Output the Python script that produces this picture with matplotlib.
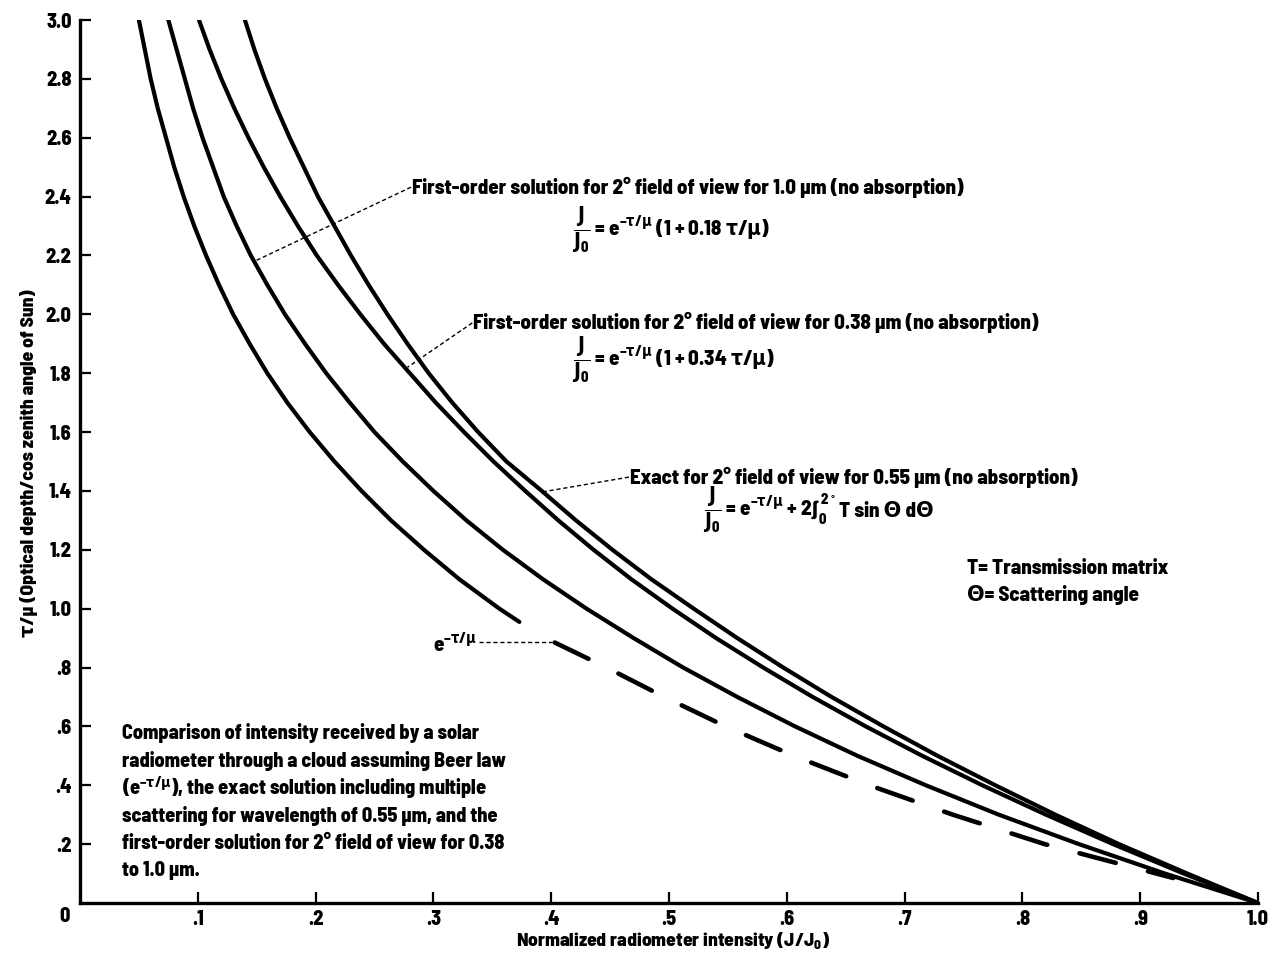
import matplotlib
matplotlib.use("Agg")
import matplotlib.pyplot as plt

# ---------------- data ----------------
tau_grid = [3.0, 2.9, 2.8, 2.7, 2.6, 2.5, 2.4, 2.3, 2.2, 2.1, 2.0, 1.9, 1.8, 1.7, 1.6, 1.5,
            1.4, 1.3, 1.2, 1.1, 1.0, 0.9, 0.8, 0.7, 0.6, 0.5, 0.4, 0.3, 0.2, 0.1, 0.0]

first_order_10um = [0.075, 0.082, 0.089, 0.096, 0.104, 0.113, 0.122, 0.133, 0.145, 0.159,
                    0.174, 0.191, 0.209, 0.229, 0.250, 0.274, 0.300, 0.328, 0.359, 0.393,
                    0.430, 0.470, 0.512, 0.558, 0.607, 0.660, 0.718, 0.780, 0.848, 0.921, 1.0]
first_order_038um = [0.101, 0.110, 0.120, 0.131, 0.143, 0.156, 0.170, 0.185, 0.201, 0.219,
                     0.238, 0.258, 0.280, 0.302, 0.326, 0.351, 0.378, 0.406, 0.436, 0.468,
                     0.503, 0.540, 0.580, 0.622, 0.667, 0.715, 0.766, 0.820, 0.877, 0.937, 1.0]
exact_055um = [0.140, 0.148, 0.157, 0.167, 0.178, 0.190, 0.202, 0.216, 0.230, 0.245,
               0.261, 0.278, 0.296, 0.316, 0.338, 0.362, 0.392, 0.421, 0.452, 0.485,
               0.521, 0.558, 0.597, 0.638, 0.682, 0.728, 0.777, 0.828, 0.882, 0.940, 1.0]

beer_solid_tau = [3.0, 2.9, 2.8, 2.7, 2.6, 2.5, 2.4, 2.3, 2.2, 2.1, 2.0, 1.9, 1.8, 1.7,
                  1.6, 1.5, 1.4, 1.3, 1.2, 1.1, 1.0, 0.955]
beer_solid_x = [0.050, 0.055, 0.060, 0.066, 0.073, 0.080, 0.088, 0.097, 0.107, 0.118,
                0.130, 0.144, 0.159, 0.176, 0.195, 0.216, 0.239, 0.264, 0.292, 0.322,
                0.356, 0.373]
beer_dash_tau = [0.885, 0.8, 0.7, 0.6, 0.5, 0.4, 0.3, 0.2, 0.085]
beer_dash_x = [0.403, 0.447, 0.496, 0.548, 0.606, 0.670, 0.741, 0.819, 0.928]

x_ticks = [0.1, 0.2, 0.3, 0.4, 0.5, 0.6, 0.7, 0.8, 0.9, 1.0]
x_tick_labels = [".1", ".2", ".3", ".4", ".5", ".6", ".7", ".8", ".9", "1.0"]
y_ticks = [0.2, 0.4, 0.6, 0.8, 1.0, 1.2, 1.4, 1.6, 1.8, 2.0, 2.2, 2.4, 2.6, 2.8, 3.0]
y_tick_labels = [".2", ".4", ".6", ".8", "1.0", "1.2", "1.4", "1.6", "1.8", "2.0",
                 "2.2", "2.4", "2.6", "2.8", "3.0"]

comment_lines = ["Comparison of intensity received by a solar",
                 "radiometer through a cloud assuming Beer law",
                 r"(e$^{-\tau/\mu}$), the exact solution including multiple",
                 "scattering for wavelength of 0.55 µm, and the",
                 "first-order solution for 2° field of view for 0.38",
                 "to 1.0 µm."]

# ---------------- styling ----------------
plt.rcParams["font.family"] = ["Barlow Semi Condensed", "DejaVu Sans"]
plt.rcParams["font.weight"] = 800
plt.rcParams["mathtext.fontset"] = "custom"
plt.rcParams["mathtext.rm"] = "Barlow Semi Condensed:weight=heavy"
plt.rcParams["mathtext.bf"] = "Barlow Semi Condensed:weight=heavy"
plt.rcParams["mathtext.sf"] = "Barlow Semi Condensed:weight=heavy"
plt.rcParams["mathtext.it"] = "DejaVu Sans:weight=bold:stretch=condensed"
plt.rcParams["mathtext.fallback"] = "stixsans"
plt.rcParams["lines.scale_dashes"] = False

W, H = 1277, 955
fig = plt.figure(figsize=(W / 100, H / 100), dpi=100)
ax = fig.add_axes([80 / W, 52 / H, 1178 / W, 883 / H])
ax.set_xlim(0, 1.0)
ax.set_ylim(0, 3.0)

LW = 3.0
for xs in (first_order_10um, first_order_038um, exact_055um):
    ax.plot(xs, tau_grid, color="black", lw=LW, solid_capstyle="round",
            solid_joinstyle="round")
ax.plot(beer_solid_x, beer_solid_tau, color="black", lw=LW, solid_capstyle="round",
        solid_joinstyle="round")
ax.plot(beer_dash_x, beer_dash_tau, color="black", lw=LW + 0.3, dashes=(27, 24),
        dash_capstyle="round")

for s in ["top", "right"]:
    ax.spines[s].set_visible(False)
for s in ["left", "bottom"]:
    ax.spines[s].set_linewidth(2.4)

TICK_FS = 14.5
ax.set_xticks(x_ticks)
ax.set_xticklabels(x_tick_labels)
ax.set_yticks(y_ticks)
ax.set_yticklabels(y_tick_labels)
ax.tick_params(direction="in", length=8, width=1.6, labelsize=TICK_FS, pad=5)
ax.tick_params(axis="y", pad=6)
ax.text(-0.013, -0.014, "0", ha="center", va="top", fontsize=TICK_FS)

LAB_FS = 14
fig.text(673 / W, 1 - 941 / H, r"Normalized radiometer intensity (J/J$_0$)",
         ha="center", va="center", fontsize=LAB_FS)
fig.text(29 / W, 1 - 463 / H, "τ/μ (Optical depth/cos zenith angle of Sun)",
         ha="center", va="center", rotation=90, fontsize=LAB_FS)

# ---------------- annotations ----------------
lead = dict(color="black", lw=1.0, dashes=(3, 2))
FS = 15
FFS = 15

ax.plot([0.281, 0.148], [2.432, 2.18], **lead)
ax.text(0.282, 2.432, "First-order solution for 2° field of view for 1.0 µm (no absorption)",
        ha="left", va="center", fontsize=FS)
ax.text(0.418, 2.287, r"$\dfrac{J}{J_0}$ = e$^{-\tau/\mu}$ (1 + 0.18 $\tau/\mu$)",
        ha="left", va="center", fontsize=FFS)

ax.plot([0.333, 0.278], [1.971, 1.82], **lead)
ax.text(0.334, 1.971, "First-order solution for 2° field of view for 0.38 µm (no absorption)",
        ha="left", va="center", fontsize=FS)
ax.text(0.418, 1.845, r"$\dfrac{J}{J_0}$ = e$^{-\tau/\mu}$ (1 + 0.34 $\tau/\mu$)",
        ha="left", va="center", fontsize=FFS)

ax.plot([0.466, 0.393], [1.447, 1.397], **lead)
ax.text(0.467, 1.447, "Exact for 2° field of view for 0.55 µm (no absorption)",
        ha="left", va="center", fontsize=FS)
f3 = ax.text(0.529, 1.335, r"$\dfrac{J}{J_0}$ = e$^{-\tau/\mu}$ + 2$\int_0^{2^\circ}$",
             ha="left", va="center", fontsize=FFS)
ax.annotate("T sin Θ dΘ", xy=(1.0, 0.47), xycoords=f3, xytext=(2, 0),
            textcoords="offset points", ha="left", va="center", fontsize=FFS)

ax.text(0.753, 1.138, "T= Transmission matrix", ha="left", va="center", fontsize=FS)
ax.text(0.753, 1.047, "Θ= Scattering angle", ha="left", va="center", fontsize=FS)

ax.plot([0.339, 0.401], [0.886, 0.886], **lead)
ax.text(0.337, 0.88, r"e$^{-\tau/\mu}$", ha="right", va="center", fontsize=FS)

y0 = 0.577
for i, line in enumerate(comment_lines):
    ax.text(0.0357, y0 - i * 0.0935, line, ha="left", va="center", fontsize=14.5)

fig.savefig("out.png", dpi=100)
